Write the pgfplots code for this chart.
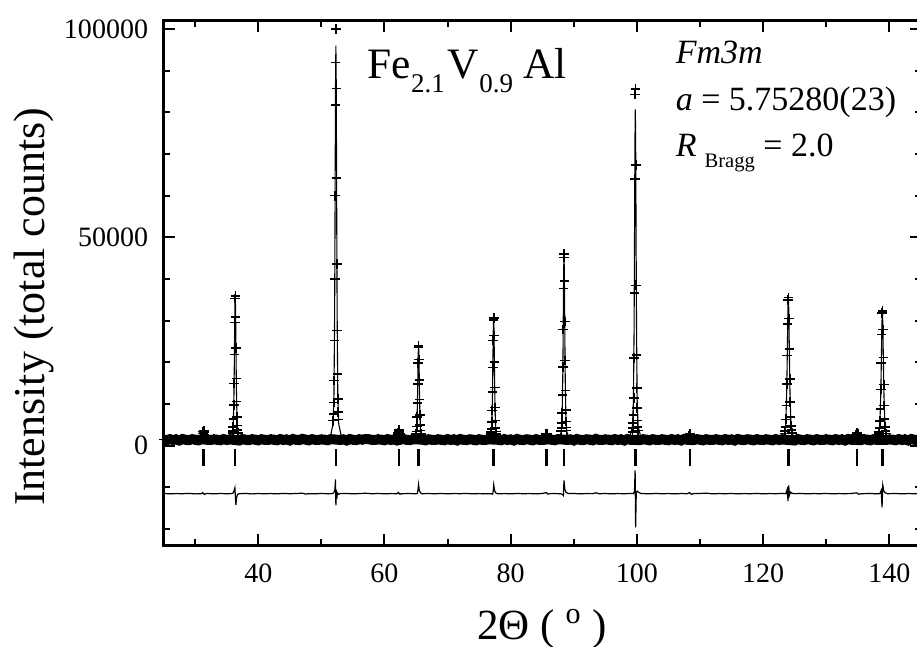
\documentclass[border=0pt]{standalone}
\usepackage{fontspec}
\setmainfont{Liberation Serif}
\usepackage{pgfplots}
\pgfplotsset{compat=1.18}
\usepackage{pgfplotstable}

\pgfplotstableread[row sep=\\]{x y\\
25.0 1450\\ 25.5 1320\\ 26.0 1580\\ 26.5 1390\\ 27.0 1500\\ 27.5 1260\\ 28.0 1610\\ 28.5 1420\\ 29.0 1350\\ 29.5 1540\\ 30.0 1470\\ 30.5 1300\\ 31.0 1560\\ 32.0 1410\\ 32.5 1380\\ 33.0 1520\\ 33.5 1450\\ 34.0 1320\\ 34.5 1580\\ 35.0 1390\\ 35.5 1500\\
37.0 1260\\ 37.5 1610\\ 38.0 1420\\ 38.5 1350\\ 39.0 1540\\ 39.5 1470\\ 40.0 1300\\ 40.5 1560\\ 41.0 1410\\ 41.5 1380\\ 42.0 1520\\ 42.5 1450\\ 43.0 1320\\ 43.5 1580\\ 44.0 1390\\ 44.5 1500\\ 45.0 1260\\ 45.5 1610\\ 46.0 1420\\ 46.5 1350\\ 47.0 1640\\ 47.5 1470\\ 48.0 1300\\ 48.5 1560\\ 49.0 1410\\ 49.5 1380\\ 50.0 1520\\ 50.5 1450\\ 51.0 1320\\ 51.5 1580\\
53.0 1390\\ 53.5 1500\\ 54.0 1260\\ 54.5 1610\\ 55.0 1420\\ 55.5 1350\\ 56.0 1540\\ 56.5 1470\\ 57.0 1600\\ 57.5 1560\\ 58.0 1410\\ 58.5 1380\\ 59.0 1520\\ 59.5 1450\\ 60.0 1320\\ 60.5 1580\\ 61.0 1390\\ 61.5 1500\\ 62.0 1260\\ 63.0 1610\\ 63.5 1420\\ 64.0 1350\\ 64.5 1540\\
66.0 1470\\ 66.5 1300\\ 67.0 1560\\ 67.5 1410\\ 68.0 1380\\ 68.5 1520\\ 69.0 1450\\ 69.5 1320\\ 70.0 1580\\ 70.5 1390\\ 71.0 1500\\ 71.5 1260\\ 72.0 1610\\ 72.5 1420\\ 73.0 1350\\ 73.5 1540\\ 74.0 1470\\ 74.5 1300\\ 75.0 1560\\ 75.5 1410\\ 76.0 1380\\ 76.5 1520\\
78.0 1450\\ 78.5 1320\\ 79.0 1580\\ 79.5 1390\\ 80.0 1500\\ 80.5 1260\\ 81.0 1610\\ 81.5 1420\\ 82.0 1350\\ 82.5 1540\\ 83.0 1470\\ 83.5 1300\\ 84.0 1560\\ 84.5 1410\\ 85.0 1380\\ 86.0 1520\\ 86.5 1450\\ 87.0 1320\\ 87.5 1580\\
89.0 1390\\ 89.5 1500\\ 90.0 1260\\ 90.5 1610\\ 91.0 1420\\ 91.5 1350\\ 92.0 1540\\ 92.5 1470\\ 93.0 1300\\ 93.5 1640\\ 94.0 1410\\ 94.5 1380\\ 95.0 1520\\ 95.5 1450\\ 96.0 1320\\ 96.5 1580\\ 97.0 1390\\ 97.5 1500\\ 98.0 1260\\ 98.5 1610\\ 99.0 1420\\
100.5 1350\\ 101.0 1540\\ 101.5 1470\\ 102.0 1300\\ 102.5 1560\\ 103.0 1410\\ 103.5 1380\\ 104.0 1520\\ 104.5 1450\\ 105.0 1320\\ 105.5 1580\\ 106.0 1390\\ 106.5 1500\\ 107.0 1260\\ 107.5 1610\\ 108.0 1420\\
109.0 1350\\ 109.5 1540\\ 110.0 1470\\ 110.5 1300\\ 111.0 1560\\ 111.5 1410\\ 112.0 1380\\ 112.5 1520\\ 113.0 1450\\ 113.5 1320\\ 114.0 1580\\ 114.5 1390\\ 115.0 1500\\ 115.5 1260\\ 116.0 1610\\ 116.5 1420\\ 117.0 1350\\ 117.5 1540\\ 118.0 1470\\ 118.5 1300\\ 119.0 1560\\ 119.5 1410\\ 120.0 1380\\ 120.5 1520\\ 121.0 1450\\ 121.5 1320\\ 122.0 1580\\ 122.5 1390\\ 123.0 1500\\
125.0 1260\\ 125.5 1610\\ 126.0 1420\\ 126.5 1350\\ 127.0 1540\\ 127.5 1470\\ 128.0 1300\\ 128.5 1560\\ 129.0 1410\\ 129.5 1380\\ 130.0 1520\\ 130.5 1450\\ 131.0 1320\\ 131.5 1580\\ 132.0 1390\\ 132.5 1500\\ 133.0 1260\\ 133.5 1610\\ 134.0 1420\\
135.5 1350\\ 136.0 1540\\ 136.5 1470\\ 137.0 1300\\ 137.5 1560\\ 138.0 1410\\ 139.5 1380\\ 140.0 1520\\ 140.5 1450\\ 141.0 1320\\ 141.5 1580\\ 142.0 1390\\ 142.5 1500\\ 143.0 1260\\ 143.5 1610\\ 144.0 1420\\ 144.5 1350\\ 145.0 1540\\
}\bgtable

\newcommand\subs[1]{\raisebox{-7.2pt}{\fontsize{13.5}{15}\selectfont #1}\hspace{1.5pt}}

\begin{document}
\begin{tikzpicture}
\begin{axis}[
  scale only axis, width=378.6pt, height=262.3pt,
  xmin=25, xmax=145, ymin=-23900, ymax=102000,
  scaled y ticks=false, scaled x ticks=false,
  xtick={40,60,80,100,120,140}, xticklabels={40,60,80,100,120,140},
  minor xtick={30,50,70,90,110,130},
  ytick={0,50000,100000}, yticklabels={0,50000,100000},
  minor ytick={-20000,-10000,10000,20000,30000,40000,60000,70000,80000,90000},
  major tick length=5.5pt, minor tick length=3pt,
  every tick/.style={black, line width=1pt},
  axis line style={line width=1.4pt},
  tick label style={font=\fontsize{14}{16}\selectfont},
  xticklabel style={anchor=base, yshift=-18.35pt, inner sep=0pt},
  yticklabel style={anchor=east, xshift=-7.6pt, inner sep=0pt},
]
% observed background band
\addplot[black, line width=5pt, mark=none] table {\bgtable};
\addplot[black, only marks, mark=+, mark size=2.5pt, mark options={line width=0.8pt}] table {\bgtable};
% observed peaks
\addplot[black, only marks, mark=+, mark size=2.4pt, mark options={line width=0.75pt}] coordinates {
(31.07,1700)(31.12,2050)(31.17,2400)(31.22,2950)(31.27,3400)(31.32,3700)(31.37,3550)(31.42,3250)(31.47,2700)(31.52,2300)(31.57,1850)(31.62,1650)
(35.92,3010)(35.97,3570)(36.02,4550)(36.07,6405)(36.12,9730)(36.17,14910)(36.22,21910)(36.27,29540)(36.32,35315)(36.37,35910)(36.42,30905)(36.47,23415)(36.52,16170)(36.57,10570)(36.62,6930)(36.67,4830)(36.72,3745)(36.77,3115)
(51.87,6000)(51.92,7600)(51.97,10400)(52.02,15700)(52.07,25200)(52.12,40000)(52.17,60000)(52.22,81800)(52.27,92000)(52.32,100000)(52.37,85700)(52.42,64300)(52.47,43600)(52.52,27600)(52.57,17200)(52.62,11200)(52.67,8100)(52.72,6300)
(62.02,1750)(62.07,2100)(62.12,2500)(62.17,3000)(62.22,3500)(62.27,3800)(62.32,3650)(62.37,3300)(62.42,2800)(62.47,2300)(62.52,1950)(62.57,1700)
(64.97,2453)(65.02,2820)(65.07,3461)(65.12,4675)(65.17,6850)(65.22,10240)(65.27,14820)(65.32,19810)(65.37,23590)(65.42,23980)(65.47,20700)(65.52,15800)(65.57,11064)(65.62,7400)(65.67,5018)(65.72,3644)(65.77,2934)(65.82,2522)
(76.87,2766)(76.92,3241)(76.97,4073)(77.02,5647)(77.07,8469)(77.12,12864)(77.17,18804)(77.22,25279)(77.27,30179)(77.32,30684)(77.37,26437)(77.42,20081)(77.47,13933)(77.52,9181)(77.57,6093)(77.62,4311)(77.67,3390)(77.72,2855)
(85.42,1600)(85.47,1850)(85.52,2150)(85.57,2500)(85.62,2800)(85.67,2950)(85.72,2850)(85.77,2600)(85.82,2200)(85.87,1900)(85.92,1650)
(88.02,3479)(88.07,4202)(88.12,5468)(88.17,7864)(88.22,12158)(88.27,18847)(88.32,27887)(88.37,37741)(88.42,45199)(88.47,45967)(88.52,39504)(88.57,29831)(88.62,20474)(88.67,13242)(88.72,8542)(88.77,5830)(88.82,4428)(88.87,3615)
(99.32,3300)(99.37,4200)(99.42,5500)(99.47,7400)(99.52,11400)(99.57,21000)(99.62,36700)(99.67,64000)(99.72,84300)(99.77,85600)(99.82,67400)(99.87,38500)(99.92,21800)(99.97,13800)(100.02,9000)(100.07,6100)(100.12,4500)(100.17,3600)
(108.12,1600)(108.17,1850)(108.22,2100)(108.27,2500)(108.32,2750)(108.37,2950)(108.42,2900)(108.47,2600)(108.52,2250)(108.57,1900)(108.62,1650)
(123.43,2992)(123.49,3545)(123.56,4514)(123.63,6348)(123.69,9635)(123.76,14756)(123.83,21676)(123.89,29218)(123.96,34927)(124.03,35516)(124.09,30568)(124.16,23163)(124.23,16001)(124.29,10465)(124.36,6867)(124.43,4791)(124.49,3718)(124.56,3095)
(134.53,1550)(134.60,1800)(134.67,2150)(134.74,2550)(134.81,2900)(134.88,3100)(134.95,3050)(135.02,2750)(135.09,2350)(135.16,2000)(135.23,1700)
(138.33,2844)(138.39,3347)(138.46,4226)(138.53,5890)(138.59,8873)(138.66,13520)(138.73,19800)(138.79,26646)(138.86,31827)(138.93,32360)(138.99,27870)(139.06,21151)(139.13,14651)(139.19,9627)(139.26,6361)(139.33,4477)(139.39,3504)(139.46,2939)
};
% calculated profile
\addplot[black, line width=0.55pt, mark=none] coordinates {
(25,1400)(30.5,1400)
(30.85,1473)(31.05,1660)(31.15,2100)(31.25,2980)(31.35,3600)(31.45,2980)(31.55,2100)(31.65,1660)(31.85,1473)
(32.5,1400)(35.0,1400)
(35.55,1869)(35.90,2815)(36.05,5454)(36.15,12410)(36.20,18650)(36.25,26170)(36.30,33000)(36.35,35900)(36.40,33000)(36.45,26170)(36.50,18650)(36.55,12410)(36.65,5454)(36.80,2815)(37.15,1869)
(37.8,1400)(50.8,1400)
(51.50,2687)(51.85,5279)(52.00,12516)(52.10,31580)(52.15,48700)(52.20,69320)(52.25,88050)(52.30,96000)(52.35,88050)(52.40,69320)(52.45,48700)(52.50,31580)(52.60,12516)(52.75,5279)(53.10,2687)
(53.8,1400)(61.5,1400)
(61.8,1477)(62.0,1670)(62.1,2134)(62.2,3050)(62.3,3700)(62.4,3050)(62.5,2134)(62.6,1670)(62.8,1477)
(63.5,1400)
(64.60,1707)(64.95,2327)(65.10,4056)(65.20,8610)(65.25,12700)(65.30,17630)(65.35,22100)(65.40,24000)(65.45,22100)(65.50,17630)(65.55,12700)(65.60,8610)(65.70,4056)(65.85,2327)(66.20,1707)
(66.8,1400)(75.8,1400)
(76.50,1798)(76.85,2601)(77.00,4843)(77.10,10750)(77.15,16050)(77.20,22440)(77.25,28240)(77.30,30700)(77.35,28240)(77.40,22440)(77.45,16050)(77.50,10750)(77.60,4843)(77.75,2601)(78.10,1798)
(78.8,1400)(84.8,1400)
(85.2,1450)(85.4,1576)(85.5,1879)(85.6,2477)(85.7,2900)(85.8,2477)(85.9,1879)(86.0,1576)(86.2,1450)
(86.6,1400)
(87.65,2005)(88.00,3225)(88.15,6629)(88.25,15600)(88.30,23650)(88.35,33350)(88.40,42160)(88.45,45900)(88.50,42160)(88.55,33350)(88.60,23650)(88.65,15600)(88.75,6629)(88.90,3225)(89.25,2005)
(89.9,1400)(98.3,1400)
(98.95,2478)(99.30,4651)(99.45,10718)(99.55,26700)(99.60,41050)(99.65,58340)(99.70,74040)(99.75,80700)(99.80,74040)(99.85,58340)(99.90,41050)(99.95,26700)(100.05,10718)(100.20,4651)(100.55,2478)
(101.2,1400)(107.5,1400)
(107.9,1450)(108.1,1576)(108.2,1879)(108.3,2477)(108.4,2900)(108.5,2477)(108.6,1879)(108.7,1576)(108.9,1450)
(109.3,1400)(122.3,1400)
(122.95,1864)(123.40,2798)(123.60,5407)(123.73,12280)(123.80,18450)(123.87,25880)(123.93,32640)(124.00,35500)(124.07,32640)(124.13,25880)(124.20,18450)(124.27,12280)(124.40,5407)(124.60,2798)(125.05,1864)
(125.7,1400)(133.6,1400)
(134.23,1457)(134.50,1600)(134.63,1942)(134.77,2621)(134.90,3100)(135.03,2621)(135.17,1942)(135.30,1600)(135.57,1457)
(136.2,1400)(137.2,1400)
(137.85,1816)(138.30,2655)(138.50,4996)(138.63,11160)(138.70,16700)(138.77,23370)(138.83,29430)(138.90,32000)(138.97,29430)(139.03,23370)(139.10,16700)(139.17,11160)(139.30,4996)(139.50,2655)(139.95,1816)
(140.6,1400)(145,1400)
};
% difference curve
\addplot[black, line width=0.6pt, mark=none] coordinates {
(25,-11450)(26,-11550)(27,-11480)(28,-11520)(29,-11430)(30,-11560)(31,-11500)(31.2,-11250)(31.45,-11700)(31.7,-11500)(32,-11470)(33,-11540)(34,-11460)(35,-11530)
(35.8,-11480)(36.05,-11300)(36.2,-10600)(36.3,-10100)(36.38,-12500)(36.45,-14200)(36.55,-12600)(36.7,-11700)(36.9,-11550)(37.2,-11500)
(38,-11450)(39,-11560)(40,-11470)(41,-11530)(42,-11480)(43,-11550)(44,-11450)(45,-11520)(46,-11470)(47,-11380)(47.5,-11600)(48,-11500)(49,-11540)(50,-11460)(51,-11520)
(51.8,-11480)(52.0,-11200)(52.15,-10400)(52.24,-8100)(52.3,-14300)(52.36,-10600)(52.43,-12800)(52.55,-11300)(52.75,-11650)(53,-11500)
(54,-11450)(55,-11540)(56,-11480)(57,-11400)(58,-11530)(59,-11460)(60,-11550)(61,-11480)(62,-11520)(62.2,-11200)(62.45,-11650)(62.7,-11500)(63,-11500)(64,-11470)(65,-11540)
(65.2,-11450)(65.32,-10500)(65.4,-9300)(65.52,-10700)(65.7,-11300)(65.95,-11550)(66.3,-11500)
(67,-11480)(68,-11520)(69,-11460)(70,-11540)(71,-11480)(72,-11510)(73,-11450)(74,-11550)(75,-11490)(76,-11520)
(77,-11520)(77.15,-11650)(77.25,-10600)(77.32,-9400)(77.45,-10800)(77.65,-11350)(77.9,-11500)
(78.5,-11520)(79,-11480)(80,-11540)(81,-11460)(82,-11520)(83,-11480)(84,-11550)(85,-11470)(85.65,-11250)(85.9,-11600)(86.3,-11500)(87,-11480)
(87.9,-11520)(88.2,-11700)(88.35,-11950)(88.45,-8300)(88.58,-10500)(88.78,-11200)(89.1,-11450)
(90,-11460)(91,-11540)(92,-11480)(93,-11500)(93.5,-11300)(94,-11520)(95,-11470)(96,-11540)(97,-11480)(98,-11520)(99,-11460)
(99.45,-11500)(99.62,-10900)(99.72,-5900)(99.8,-19600)(99.9,-11300)(100.05,-10900)(100.3,-11200)(100.7,-11500)
(101,-11480)(102,-11540)(103,-11460)(104,-11520)(105,-11480)(106,-11550)(107,-11470)(108,-11520)(108.35,-11250)(108.6,-11650)(109,-11500)(110,-11460)(111,-11380)(112,-11540)(113,-11480)(114,-11520)(115,-11460)(116,-11550)(117,-11480)(118,-11520)(119,-11450)(120,-11540)(121,-11480)(122,-11510)(123,-11460)
(123.6,-11500)(123.82,-10500)(123.95,-13300)(124.05,-9500)(124.18,-11800)(124.32,-11100)(124.55,-11400)(125,-11500)
(126,-11460)(127,-11540)(128,-11480)(129,-11520)(130,-11460)(131,-11550)(132,-11480)(133,-11520)(134,-11460)(134.85,-11300)(135.15,-11650)(135.5,-11500)(136,-11500)(137,-11460)(138,-11540)
(138.5,-11500)(138.72,-10700)(138.85,-14800)(138.97,-9500)(139.12,-10800)(139.35,-11300)(139.7,-11500)
(140,-11500)(141,-11460)(142,-11540)(143,-11480)(144,-11520)(145,-11480)
};
% Bragg reflection markers
\addplot[black, only marks, mark=|, mark size=4.25pt, mark options={line width=1.2pt}] coordinates {
(31.35,-2850)(36.35,-2850)(52.3,-2850)(62.3,-2850)(65.4,-2850)(77.3,-2850)(85.7,-2850)(88.45,-2850)(99.75,-2850)(108.4,-2850)(124.0,-2850)(134.9,-2850)(138.9,-2850)
};
\node[anchor=base west, inner sep=0pt, font=\fontsize{21.7}{26}\selectfont] at (axis cs:57.3,88224) {Fe\subs{2.1}V\subs{0.9}\hspace{3.5pt}Al};
\node[anchor=base west, inner sep=0pt, font=\fontsize{17}{20}\selectfont] at (axis cs:106.1,91824) {\textit{Fm3m}};
\node[anchor=base west, inner sep=0pt, font=\fontsize{17}{20}\selectfont] at (axis cs:106.1,80544) {\textit{a} = 5.75280(23)};
\node[anchor=base west, inner sep=0pt, font=\fontsize{17}{20}\selectfont] at (axis cs:106.1,69504) {\textit{R}\hspace{4pt}\raisebox{-5.5pt}{\fontsize{10.3}{12}\selectfont Bragg} = 2.0};
\coordinate (BL) at (axis cs:25,-23900);
\coordinate (TR) at (axis cs:144.39,102000);
\coordinate (YL) at (rel axis cs:0,0.4548);
\coordinate (XL) at (rel axis cs:0.4997,0);
\end{axis}
\node[rotate=90, anchor=base, inner sep=0pt, font=\fontsize{22}{26}\selectfont] at ([xshift=-59.8pt]YL) {Intensity (total counts)};
\node[anchor=base, inner sep=0pt, font=\fontsize{21.5}{25}\selectfont] at ([yshift=-46.85pt]XL) {2Θ ( \textsuperscript{o} )};
\pgfresetboundingbox
\path[use as bounding box] ([xshift=-81.8pt,yshift=-50.35pt]BL) rectangle ([yshift=10.35pt]TR);
\end{tikzpicture}
\end{document}
